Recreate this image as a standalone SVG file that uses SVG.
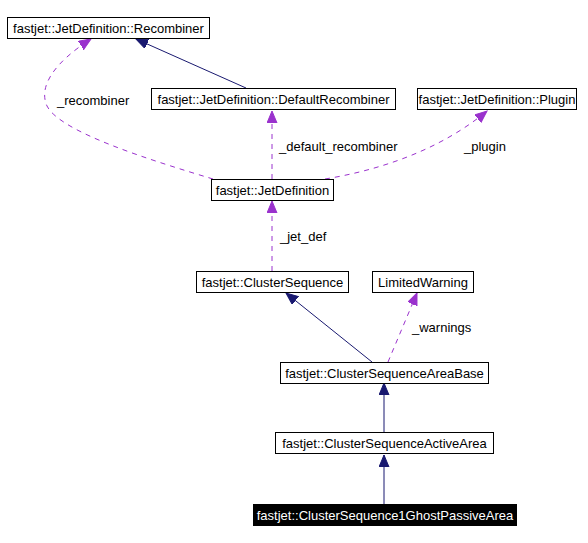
<svg xmlns="http://www.w3.org/2000/svg" width="588" height="543" viewBox="0 0 588 543">
<style>
.box{fill:#fff;stroke:#000;stroke-width:1}
.t{font-family:"Liberation Sans",Arial,sans-serif;font-size:13px;fill:#000;text-anchor:middle}
.lbl{font-family:"Liberation Sans",Arial,sans-serif;font-size:13px;fill:#000}
.inh{fill:none;stroke:#191970;stroke-width:1}
.use{fill:none;stroke:#9a32cd;stroke-width:1;stroke-dasharray:5,5}
</style>
<defs>
<marker id="an" markerUnits="userSpaceOnUse" markerWidth="14" markerHeight="12" refX="12" refY="5" orient="auto" viewBox="0 0 14 12">
<path d="M0,0 L12,5 L0,10 Z" fill="#191970" stroke="#191970"/>
</marker>
<marker id="ap" markerUnits="userSpaceOnUse" markerWidth="14" markerHeight="12" refX="12" refY="5" orient="auto" viewBox="0 0 14 12">
<path d="M0,0 L12,5 L0,10 Z" fill="#9a32cd" stroke="#9a32cd"/>
</marker>
</defs>
<rect width="588" height="543" fill="#fff"/>
<g id="connectors">
<path class="inh" d="M246,88 L136,39" marker-end="url(#an)"/>
<path class="use" d="M213,179 C150,160 60,132 47,106 C38,86 55,62 91,39" marker-end="url(#ap)"/>
<path class="use" d="M272,179 L272,111" marker-end="url(#ap)"/>
<path class="use" d="M325,179 C380,170 440,150 487,111" marker-end="url(#ap)"/>
<path class="use" d="M272,271 L272,201" marker-end="url(#ap)"/>
<path class="inh" d="M372,362 L286,293" marker-end="url(#an)"/>
<path class="use" d="M388,362 L417,293" marker-end="url(#ap)"/>
<path class="inh" d="M384,432 L384,383" marker-end="url(#an)"/>
<path class="inh" d="M384,504 L384,455" marker-end="url(#an)"/>
<text class="lbl" x="57" y="105">_recombiner</text>
<text class="lbl" x="279" y="151">_default_recombiner</text>
<text class="lbl" x="464" y="151">_plugin</text>
<text class="lbl" x="280" y="241">_jet_def</text>
<text class="lbl" x="412" y="332">_warnings</text>
</g>
<g id="recombiner"><rect class="box" x="7.5" y="17.5" width="202" height="21"/><text class="t" x="108.5" y="32.5">fastjet::JetDefinition::Recombiner</text></g>
<g id="defaultrecombiner"><rect class="box" x="151.5" y="88.5" width="244" height="21"/><text class="t" x="273.5" y="103.5">fastjet::JetDefinition::DefaultRecombiner</text></g>
<g id="plugin"><rect class="box" x="417.5" y="88.5" width="159" height="21"/><text class="t" x="497" y="103.5">fastjet::JetDefinition::Plugin</text></g>
<g id="jetdefinition"><rect class="box" x="211.5" y="179.5" width="122" height="21"/><text class="t" x="272.5" y="194.5">fastjet::JetDefinition</text></g>
<g id="clustersequence"><rect class="box" x="196.5" y="271.5" width="152" height="21"/><text class="t" x="272.5" y="286.5">fastjet::ClusterSequence</text></g>
<g id="limitedwarning"><rect class="box" x="372.5" y="271.5" width="101" height="21"/><text class="t" x="423" y="286.5">LimitedWarning</text></g>
<g id="areabase"><rect class="box" x="280.5" y="362.5" width="208" height="21"/><text class="t" x="384.5" y="377.5">fastjet::ClusterSequenceAreaBase</text></g>
<g id="activearea"><rect class="box" x="275.5" y="432.5" width="218" height="21"/><text class="t" x="384.5" y="447.5">fastjet::ClusterSequenceActiveArea</text></g>
<g id="ghostpassive"><rect x="253" y="504" width="264" height="22" fill="#000"/><text class="t" x="385" y="519.5" style="fill:#fff">fastjet::ClusterSequence1GhostPassiveArea</text></g>
</svg>
